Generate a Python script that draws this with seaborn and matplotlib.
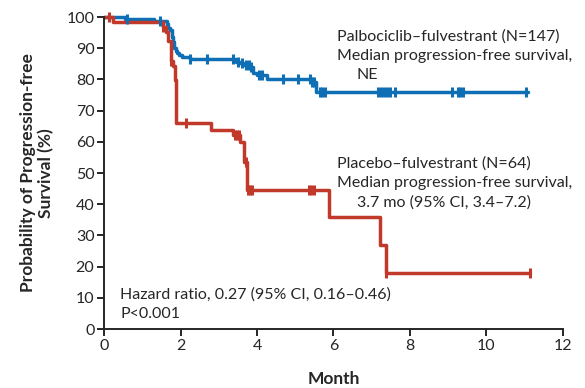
import numpy as np
import pandas as pd
import matplotlib
matplotlib.use("Agg")
import matplotlib.pyplot as plt
import seaborn as sns

# Kaplan-Meier curves: month of each drop and survival (%) after the drop
palbo_time = [0, 0.55, 1.30, 1.64, 1.68, 1.73, 1.77, 1.80, 1.83, 1.87, 1.90,
              1.96, 2.03, 2.25, 3.45, 3.56, 3.65, 3.82, 3.90, 3.99, 4.25,
              5.45, 5.55]
palbo_surv = [100, 99.3, 98.6, 97.9, 96.6, 95.8, 93.7, 92.0, 90.0, 89.0, 88.4,
              87.8, 87.3, 86.4, 85.7, 85.3, 84.6, 84.1, 82.0, 81.4, 80.0,
              79.3, 76.0]
palbo_end = 11.1
palbo_censor = [0.60, 1.45, 2.25, 2.68, 3.38, 3.50, 3.60, 3.72, 3.78, 3.85,
                4.05, 4.12, 4.69, 5.07, 5.38, 5.45, 5.50, 5.64, 5.70, 5.78,
                7.17, 7.25, 7.32, 7.40, 7.48, 7.61, 9.09, 9.26, 9.32, 9.39,
                11.05]

placebo_time = [0, 0.24, 1.55, 1.62, 1.68, 1.74, 1.81, 1.86, 1.88, 2.80, 3.36,
                3.56, 3.66, 3.75, 5.88, 7.23, 7.37]
placebo_surv = [100, 98.4, 96.9, 95.3, 92.2, 85.9, 84.4, 79.7, 65.9, 63.8,
                62.2, 60.1, 53.6, 44.7, 35.8, 26.8, 17.9]
placebo_end = 11.14
placebo_censor = [0.13, 1.55, 1.75, 2.14, 3.42, 3.47, 3.52, 3.70, 3.77, 3.82,
                  3.88, 5.35, 5.42, 5.50, 7.37, 11.14]

month_ticks = [0, 2, 4, 6, 8, 10, 12]
pct_ticks = [0, 10, 20, 30, 40, 50, 60, 70, 80, 90, 100]

palbo_label = ["Palbociclib\u2013fulvestrant (N=147)",
               "Median progression-free survival,",
               "NE"]
placebo_label = ["Placebo\u2013fulvestrant (N=64)",
                 "Median progression-free survival,",
                 "3.7 mo (95% CI, 3.4\u20137.2)"]
hr_label = ["Hazard ratio, 0.27 (95% CI, 0.16\u20130.46)", "P<0.001"]

BLUE = "#0f6fb5"
RED = "#c0392b"


def km_frame(times, surv, end):
    return pd.DataFrame({"month": list(times) + [end],
                         "pfs": list(surv) + [surv[-1]]})


def censor_frame(times, surv, censor):
    idx = np.searchsorted(np.asarray(times), np.asarray(censor), side="right") - 1
    return pd.DataFrame({"month": censor, "pfs": np.asarray(surv)[idx]})


sns.set_style("ticks")
plt.rcParams["font.family"] = ["Lato", "DejaVu Sans"]

fig = plt.figure(figsize=(5.85, 3.88), dpi=100)
ax = fig.add_axes([0.178, 0.152, 0.784, 0.804])

for times, surv, end, cens, color in [
        (palbo_time, palbo_surv, palbo_end, palbo_censor, BLUE),
        (placebo_time, placebo_surv, placebo_end, placebo_censor, RED)]:
    sns.lineplot(data=km_frame(times, surv, end), x="month", y="pfs",
                 estimator=None, sort=False, drawstyle="steps-post",
                 color=color, linewidth=2.5, ax=ax, clip_on=False)
    sns.scatterplot(data=censor_frame(times, surv, cens), x="month", y="pfs",
                    marker="|", s=45, linewidth=2.2, color=color, ax=ax,
                    clip_on=False, zorder=3)

ax.set_xlim(0, 12)
ax.set_ylim(0, 100)
ax.set_xticks(month_ticks)
ax.set_yticks(pct_ticks)
sns.despine(ax=ax)
for side in ("left", "bottom"):
    ax.spines[side].set_linewidth(1.4)
ax.tick_params(axis="both", length=5, width=1.4, labelsize=11.5, pad=2)

ax.set_xlabel("Month", fontweight="bold", fontsize=12.5, labelpad=13)
ax.set_ylabel("Probability of Progression-free\nSurvival (%)",
              fontweight="bold", fontsize=12.5, labelpad=9, linespacing=1.15)

text_size = 11.5
line_gap = 6.1
for i, txt in enumerate(palbo_label):
    ax.text(6.09 + (0.52 if i == 2 else 0), 93.6 - i * line_gap, txt,
            ha="left", va="center", fontsize=text_size)
for i, txt in enumerate(placebo_label):
    ax.text(6.09 + (0.52 if i == 2 else 0), 52.9 - i * line_gap, txt,
            ha="left", va="center", fontsize=text_size)
for i, txt in enumerate(hr_label):
    ax.text(0.42, 10.9 - i * line_gap, txt, ha="left", va="center",
            fontsize=text_size)

fig.savefig("out.png", dpi=100)
